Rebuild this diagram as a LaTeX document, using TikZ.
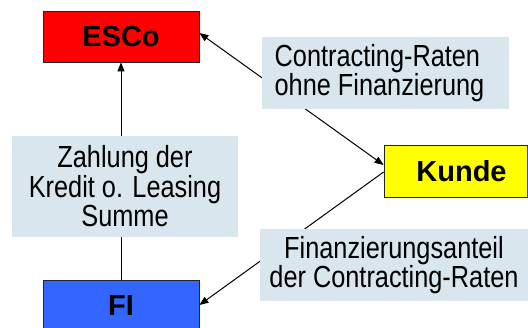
\documentclass[tikz,border=0pt]{standalone}
\usepackage{fontspec}
\setmainfont{Liberation Sans}
\newfontfamily\narrowsf[FakeStretch=0.83]{Liberation Sans}
\usetikzlibrary{arrows.meta}
\usetikzlibrary{calc}

\definecolor{escored}{RGB}{255,0,0}
\definecolor{kundeyellow}{RGB}{255,255,0}
\definecolor{fiblue}{RGB}{51,102,255}
\definecolor{labelbg}{RGB}{217,230,238}

\begin{document}
\begin{tikzpicture}[x=1pt, y=-1pt, >={Triangle[length=9pt,width=7pt]},
  party/.style={draw=black!85, line width=0.8pt, minimum width=156pt, minimum height=51pt,
    inner sep=0pt, font=\fontsize{29}{30}\selectfont\bfseries},
  flowlabel/.style={fill=labelbg, inner sep=0pt, align=center,
    font=\narrowsf\fontsize{30.5}{29.5}\selectfont},
  flow/.style={line width=1pt}]

\useasboundingbox (0,0) rectangle (528,327);

% Vertragspartner
\node[party, fill=escored] (esco) at (121,36.5) {ESCo};
\node[party, fill=kundeyellow, minimum width=143pt, minimum height=52pt,
  text width=143pt, align=center] (kunde) at (455.5,171) {\hspace*{12pt}Kunde};
\node[party, fill=fiblue, minimum height=52pt] (fi) at (121,306) {FI};

% Zahlungsströme (hinter den Beschriftungen)
\draw[flow, <->] ([yshift=3.5pt]esco.east) -- ([yshift=6pt]kunde.west);
\draw[flow, ->] ([yshift=-1pt]kunde.west) -- ([yshift=1pt]fi.east);

\node[flowlabel, minimum width=226pt, minimum height=101pt] (zahlung) at (125,186.5)
  {Zahlung der\\Kredit o. Leasing\\Summe};
\node[flowlabel, minimum width=247pt, minimum height=72pt, align=left] (raten) at (385.5,73)
  {Contracting-Raten\\ohne Finanzierung\hspace*{12pt}};
\node[flowlabel, minimum width=268pt, minimum height=72pt] (anteil) at (394,265)
  {Finanzierungsanteil\\der Contracting-Raten};

\draw[flow, ->] (esco.south |- zahlung.north) -- (esco.south);
\draw[flow] (fi.north |- zahlung.south) -- (fi.north);

\end{tikzpicture}
\end{document}
